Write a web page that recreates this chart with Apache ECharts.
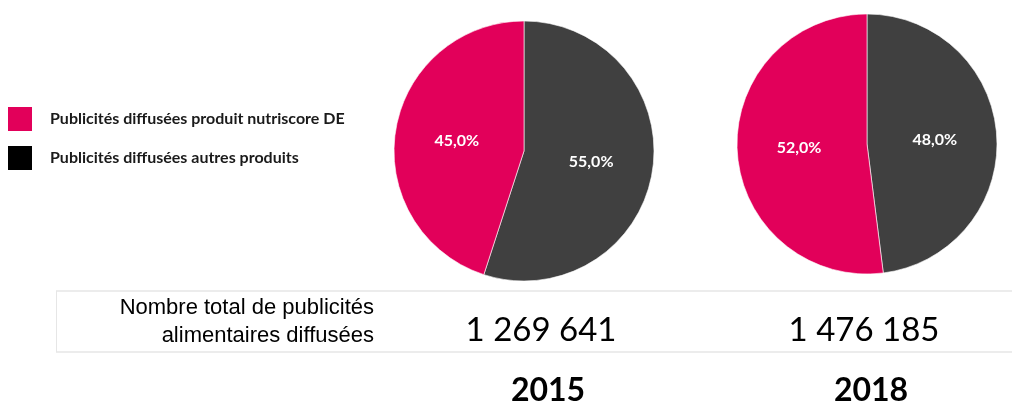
<!DOCTYPE html>
<html>
<head>
<meta charset="utf-8">
<script src="https://cdn.jsdelivr.net/npm/echarts@6/dist/echarts.min.js"></script>
<style>
  html, body { margin: 0; padding: 0; background: #fff; }
  #main { width: 1012px; height: 402px; }
</style>
</head>
<body>
<div id="main"></div>
<script>
// données
const years = ['2015', '2018']
const totals = ['1 269 641', '1 476 185']
const categories = ['Publicités diffusées autres produits', 'Publicités diffusées produit nutriscore DE']
const autresShare = [55.0, 48.0]
const nutriShare = [45.0, 52.0]
const rowLabel = 'Nombre total de publicités\nalimentaires diffusées'

const PINK = '#E2005A'
const DARK = '#404040'
const centers = [[524, 151], [867, 144]]
const colX = [541, 864]

const chart = echarts.init(document.getElementById('main'))

const series = years.map((y, i) => ({
  name: y,
  type: 'pie',
  center: centers[i],
  radius: [0, 130],
  startAngle: 90,
  clockwise: true,
  animation: false,
  silent: true,
  itemStyle: { borderColor: '#ffffff', borderWidth: 0.6 },
  label: {
    show: true,
    position: 'inside',
    color: '#fff',
    fontFamily: 'Lato',
    fontWeight: 'bold',
    fontSize: 16,
    formatter: p => p.value.toFixed(1).replace('.', ',') + '%'
  },
  labelLine: { show: false },
  data: [
    { name: categories[0], value: autresShare[i], itemStyle: { color: DARK } },
    { name: categories[1], value: nutriShare[i], itemStyle: { color: PINK } }
  ]
}))

const graphic = [
  // cadre du tableau
  { type: 'line', shape: { x1: 56, y1: 291, x2: 1012, y2: 291 }, style: { stroke: '#d9d9d9', lineWidth: 1 } },
  { type: 'line', shape: { x1: 56, y1: 352, x2: 1012, y2: 352 }, style: { stroke: '#d9d9d9', lineWidth: 1 } },
  { type: 'line', shape: { x1: 56.5, y1: 291, x2: 56.5, y2: 352 }, style: { stroke: '#e6e6e6', lineWidth: 1 } },
  {
    type: 'text', x: 374, y: 322,
    style: {
      text: rowLabel, fill: '#000', font: '22px "Liberation Sans", Arial',
      align: 'right', verticalAlign: 'middle', lineHeight: 28
    }
  }
]
years.forEach((y, i) => {
  graphic.push({
    type: 'text', x: colX[i], y: 330,
    style: { text: totals[i], fill: '#000', font: '33px Lato', align: 'center', verticalAlign: 'middle' }
  })
  graphic.push({
    type: 'text', x: colX[i] + 7, y: 391,
    style: { text: y, fill: '#000', font: 'bold 32px Lato', align: 'center', verticalAlign: 'middle' }
  })
})

chart.setOption({
  backgroundColor: '#fff',
  animation: false,
  legend: {
    orient: 'vertical',
    left: 8,
    top: 107,
    padding: 0,
    itemWidth: 24,
    itemHeight: 24,
    itemGap: 15,
    icon: 'rect',
    selectedMode: false,
    itemStyle: { borderWidth: 0 },
    textStyle: {
      fontFamily: 'Lato', fontWeight: 'bold', fontSize: 16, color: '#1a1a1a',
      padding: [0, 0, 0, 13]
    },
    data: [
      { name: categories[1], itemStyle: { color: PINK, borderWidth: 0 } },
      { name: categories[0], itemStyle: { color: '#000', borderWidth: 0 } }
    ]
  },
  graphic: graphic,
  series: series
})
</script>
</body>
</html>
